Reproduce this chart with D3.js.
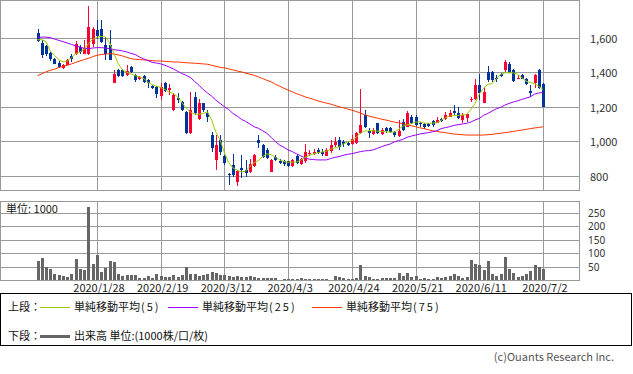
<!DOCTYPE html>
<html><head><meta charset="utf-8">
<script src="https://cdn.jsdelivr.net/npm/d3@7"></script>
<style>
body{margin:0;background:#fff}
svg{display:block}
text{font-family:"Noto Sans CJK JP","Noto Sans",sans-serif;}
</style></head>
<body><svg id="c" width="633" height="374"></svg>
<script>
// ---- categories: trading days 2020/1/7 .. 2020/7/2 ----
const monthDays = [
  [1,[7,8,9,10,14,15,16,17,20,21,22,23,24,27,28,29,30,31]],
  [2,[3,4,5,6,7,10,12,13,14,17,18,19,20,21,25,26,27,28]],
  [3,[2,3,4,5,6,9,10,11,12,13,16,17,18,19,23,24,25,26,27,30,31]],
  [4,[1,2,3,6,7,8,9,10,13,14,15,16,17,20,21,22,23,24,27,28,30]],
  [5,[1,7,8,11,12,13,14,15,18,19,20,21,22,25,26,27,28,29]],
  [6,[1,2,3,4,5,8,9,10,11,12,15,16,17,18,19,22,23,24,25,26,29,30]],
  [7,[1,2]]
];
const dates = monthDays.flatMap(([m,ds]) => ds.map(d => `2020/${m}/${d}`));

// ---- series ----
const open  = [1629,1569,1550,1512,1477,1456,1425,1444,1496,1504,1546,1508,1508,1565,1646,1652,1556,1556,1338,1412,
               1412,1383,1431,1383,1358,1377,1354,1319,1312,1262,1335,1296,1181,1252,1229,1171,1046,1258,1127,1219,
               1162,1036,889,1008,915,812,864,767,846,835,825,854,1008,979,950,825,908,888,883,883,
               854,915,869,883,927,927,950,940,915,946,979,1008,998,992,985,988,1046,1152,1060,1042,
               1104,1042,1075,1075,1056,1031,1113,1085,1142,1142,1108,1100,1100,1119,1108,1127,1127,1142,1175,1165,
               1123,1133,1238,1242,1325,1223,1402,1402,1369,1389,1412,1450,1412,1363,1383,1363,1292,1338,1415,1331];
const high  = [1648,1585,1556,1517,1485,1462,1450,1477,1508,1581,1556,1585,1781,1662,1700,1700,1604,1642,1412,1421,
               1421,1440,1435,1389,1377,1381,1363,1325,1319,1335,1344,1331,1277,1277,1235,1177,1287,1287,1242,1223,
               1181,1056,1036,1036,921,817,927,835,921,892,896,927,1036,985,960,896,921,896,892,888,
               896,927,902,985,950,954,960,954,960,1008,1027,1023,1008,1000,1036,1056,1300,1181,1075,1075,
               1108,1075,1085,1081,1062,1123,1127,1177,1152,1150,1113,1108,1104,1123,1138,1133,1171,1181,1210,1200,
               1162,1162,1258,1363,1389,1312,1435,1408,1383,1396,1473,1460,1421,1383,1389,1369,1325,1389,1417,1335];
const low   = [1575,1485,1492,1465,1446,1427,1421,1440,1460,1498,1508,1504,1498,1546,1594,1569,1469,1469,1335,1373,
               1373,1377,1398,1344,1354,1340,1306,1300,1248,1238,1287,1267,1177,1219,1177,1042,1042,1152,1123,1171,
               1113,940,835,921,863,748,796,742,788,796,815,850,960,902,896,821,883,866,858,850,
               850,869,863,877,912,921,927,915,912,935,969,950,965,975,977,985,1042,1075,1017,1037,
               1042,1037,1046,1050,1023,1027,1062,1081,1100,1090,1085,1069,1081,1085,1104,1113,1123,1138,1152,1127,
               1108,1113,1229,1238,1238,1219,1344,1344,1344,1373,1402,1396,1344,1358,1358,1325,1258,1306,1300,1198];
const close = [1581,1498,1504,1479,1450,1431,1442,1469,1479,1565,1517,1540,1662,1652,1608,1575,1508,1473,1388,1377,
               1377,1408,1402,1354,1373,1344,1335,1306,1273,1315,1292,1306,1267,1238,1181,1046,1181,1162,1219,1181,
               1142,960,979,940,873,802,806,829,835,819,869,921,988,908,902,892,892,873,869,854,
               892,873,896,940,935,938,935,927,950,979,998,969,985,981,1012,1050,1094,1085,1050,1065,
               1046,1065,1062,1056,1037,1062,1065,1162,1108,1094,1100,1085,1089,1094,1123,1119,1152,1162,1162,1133,
               1152,1158,1246,1325,1281,1287,1354,1354,1358,1377,1460,1402,1350,1369,1363,1331,1281,1383,1306,1200];
const volume = [70,80,47,41,22,19,15,11,21,78,41,37,272,59,93,30,44,70,67,21,
                15,17,17,17,7,7,14,9,21,14,10,10,19,12,17,47,21,21,14,19,
                23,28,26,20,17,14,12,14,12,12,14,10,9,7,9,7,6,1,2,2,
                2,5,7,4,5,5,2,4,4,1,15,11,7,5,5,7,54,14,11,5,
                5,7,6,7,7,25,15,25,12,15,5,7,4,4,10,9,11,15,21,15,
                9,12,74,59,56,37,70,22,15,22,85,42,27,10,15,22,35,56,47,40];
const ma5  = [1588,1588,1577,1523,1496,1473,1459,1465,1484,1507,1517,1532,1565,1590,1602,1607,1604,1569,1507,1450,
              1413,1400,1390,1380,1373,1363,1342,1327,1319,1311,1300,1284,1277,1257,1223,1194,1169,1157,1157,1161,
              1171,1123,1052,1007,934,877,846,832,823,827,854,877,888,911,927,923,907,892,882,879,
              879,880,892,907,919,927,934,938,942,954,961,969,984,996,1004,1023,1046,1059,1061,1061,
              1059,1057,1055,1053,1053,1069,1088,1094,1102,1111,1113,1105,1104,1105,1107,1121,1136,1146,1150,1150,
              1152,1155,1184,1219,1273,1307,1330,1334,1361,1386,1396,1396,1396,1388,1369,1348,1340,1334,1319,1300];
const ma25 = [1600,1603,1603,1600,1592,1584,1577,1569,1561,1552,1546,1538,1536,1540,1542,1542,1540,1536,1530,1527,
              1523,1517,1509,1502,1488,1477,1467,1457,1453,1448,1440,1430,1419,1405,1392,1382,1369,1346,1325,1300,
              1280,1261,1238,1219,1200,1184,1161,1146,1127,1115,1100,1084,1075,1061,1046,1023,998,978,965,950,
              940,927,915,904,896,894,892,892,892,900,907,911,919,925,928,934,940,944,946,950,
              959,969,977,984,996,1004,1011,1023,1030,1036,1042,1046,1050,1055,1061,1073,1079,1084,1092,1096,
              1100,1104,1111,1123,1132,1150,1161,1175,1188,1196,1209,1219,1227,1234,1242,1250,1257,1273,1280,1282];
const ma75 = [1380,1390,1402,1411,1417,1427,1434,1440,1448,1457,1465,1473,1480,1490,1498,1502,1505,1507,1505,1500,
              1494,1486,1478,1475,1473,1471,1469,1467,1465,1465,1463,1461,1459,1459,1457,1455,1453,1452,1450,1448,
              1446,1440,1434,1428,1425,1419,1413,1407,1402,1394,1388,1382,1373,1363,1353,1344,1330,1319,1307,1296,
              1286,1275,1267,1257,1250,1242,1234,1227,1221,1215,1207,1200,1194,1186,1180,1173,1163,1154,1146,1140,
              1134,1128,1123,1117,1111,1107,1102,1096,1090,1084,1078,1073,1067,1061,1057,1053,1050,1046,1042,1040,
              1038,1036,1036,1036,1036,1036,1038,1040,1044,1046,1050,1053,1057,1061,1065,1069,1073,1077,1080,1084];
const priceTicks = [800,1000,1200,1400,1600];
const volTicks = [50,100,150,200,250];
const dateTicks = ["2020/1/28","2020/2/19","2020/3/12","2020/4/3","2020/4/24","2020/5/21","2020/6/11","2020/7/2"];
const legendTop = [["単純移動平均","(5)","#99cc00"],["単純移動平均","(25)","#9900ff"],["単純移動平均","(75)","#ff3300"]];

// ---- layout ----
const svg = d3.select("#c");
const L = 0.5, R = 579.5;
const P = {top:0.5, bottom:190.5};
const V = {top:201.5, bottom:280.5};
const grid = "#999";
const UP = "#ff0033", DOWN = "#003399";

const x = d3.scalePoint().domain(dates).range([37.5, 543]);
const y = d3.scaleLinear().domain([715,1815]).range([P.bottom, P.top]);
const yv = d3.scaleLinear().domain([0,291]).range([V.bottom-0.5, V.top]);
const cx = d => Math.round(x(d)) + 0.5;

const g = svg.append("g").attr("shape-rendering","crispEdges");

// grids and frames
function frame(top,bottom){
  g.append("rect").attr("x",L).attr("y",top).attr("width",R-L).attr("height",bottom-top)
   .attr("fill","none").attr("stroke",grid);
  dateTicks.forEach(t => g.append("line").attr("x1",cx(t)).attr("x2",cx(t))
     .attr("y1",top).attr("y2",bottom).attr("stroke",grid));
}
frame(P.top,P.bottom);
frame(V.top,V.bottom);
priceTicks.forEach(v => {
  const yy = Math.round(y(v))+0.5;
  g.append("line").attr("x1",L).attr("x2",R).attr("y1",yy).attr("y2",yy).attr("stroke",grid);
  svg.append("text").attr("x",590).attr("y",yy+4).attr("font-size",11).attr("fill","#333")
     .text(d3.format(",")(v));
});
volTicks.forEach(v => {
  const yy = Math.round(yv(v))+0.5;
  g.append("line").attr("x1",L).attr("x2",R).attr("y1",yy).attr("y2",yy).attr("stroke",grid);
  svg.append("text").attr("x",588).attr("y",yy+3.5).attr("font-size",10)
     .style("font-family","'Noto Sans',sans-serif").attr("fill","#333").text(v);
});
dateTicks.forEach(t => svg.append("text").attr("x",x(t)+2).attr("y",292).attr("text-anchor","middle")
   .attr("font-size",11).attr("fill","#222").text(t));

// candles
const cg = svg.append("g").attr("shape-rendering","crispEdges");
dates.forEach((d,i) => {
  const col = close[i] >= open[i] ? UP : DOWN;
  const xx = cx(d);
  cg.append("line").attr("x1",xx).attr("x2",xx).attr("y1",y(high[i])).attr("y2",y(low[i]))
    .attr("stroke",col);
  const t = y(Math.max(open[i],close[i])), b = y(Math.min(open[i],close[i]));
  cg.append("rect").attr("x",xx-2).attr("width",3).attr("y",t).attr("height",Math.max(1,b-t)).attr("fill",col);
});

// moving averages
[[ma75,"#ff3300"],[ma25,"#9900ff"],[ma5,"#99cc00"]].forEach(([s,c]) => {
  svg.append("path").datum(s).attr("fill","none").attr("stroke",c).attr("stroke-width",1)
    .attr("d", d3.line().x((v,i)=>x(dates[i])).y(v=>y(v)));
});

// volume
const vg = svg.append("g").attr("shape-rendering","crispEdges");
dates.forEach((d,i) => {
  const xx = cx(d);
  vg.append("rect").attr("x",xx-2).attr("width",3).attr("y",yv(volume[i]))
    .attr("height",(V.bottom-0.5)-yv(volume[i])).attr("fill","#666");
});
svg.append("text").attr("x",6).attr("y",213).attr("font-size",11).attr("fill","#222").text("単位: 1000");

// legend
svg.append("rect").attr("x",0.5).attr("y",293.5).attr("width",631).attr("height",52)
  .attr("fill","#fff").attr("stroke","#000").attr("shape-rendering","crispEdges");
svg.append("text").attr("x",8).attr("y",311).attr("font-size",11).attr("fill","#111").text("上段：");
const lx = [[40,74],[168,202],[312,346]];
legendTop.forEach(([lab,par,c],k) => {
  svg.append("line").attr("x1",lx[k][0]).attr("x2",lx[k][0]+30).attr("y1",307.5).attr("y2",307.5)
    .attr("stroke",c).attr("shape-rendering","crispEdges");
  const t = svg.append("text").attr("x",lx[k][1]).attr("y",311).attr("font-size",11).attr("fill","#111");
  t.append("tspan").text(lab);
  t.append("tspan").attr("dx",1).attr("letter-spacing",2).text(par);
});
svg.append("text").attr("x",8).attr("y",340).attr("font-size",11).attr("fill","#111").text("下段：");
svg.append("line").attr("x1",40).attr("x2",70).attr("y1",336.5).attr("y2",336.5)
  .attr("stroke","#666").attr("stroke-width",3);
svg.append("text").attr("x",74).attr("y",340).attr("font-size",11).attr("fill","#111").text("出来高 単位:(1000株/口/枚)");
svg.append("text").attr("x",614).attr("y",361).attr("text-anchor","end").attr("font-size",11)
  .attr("fill","#555").text("(c)Ouants Research Inc.");
</script></body></html>
